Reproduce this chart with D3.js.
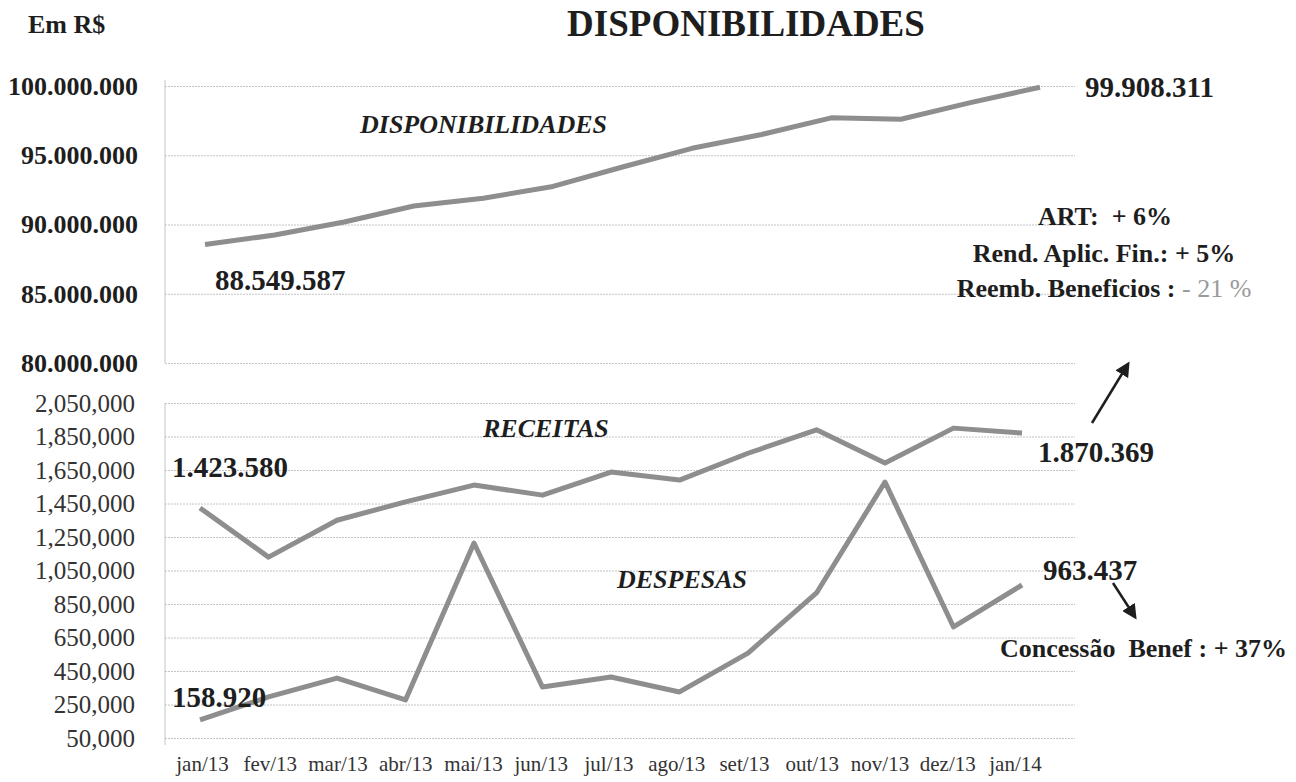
<!DOCTYPE html>
<html>
<head>
<meta charset="utf-8">
<script src="https://cdn.jsdelivr.net/npm/d3@7"></script>
<style>
  body { margin: 0; background: #fff; }
  svg { font-family: "Liberation Serif", "Times New Roman", serif; }
  text { white-space: pre; }
</style>
</head>
<body>
<svg id="chart" width="1296" height="782"></svg>
<script>
// data
var months = ["jan/13","fev/13","mar/13","abr/13","mai/13","jun/13","jul/13","ago/13","set/13","out/13","nov/13","dez/13","jan/14"];
var disponibilidades = [88549587, 89240000, 90180000, 91340000, 91900000, 92750000, 94150000, 95500000, 96500000, 97700000, 97600000, 98800000, 99908311];
var receitas = [1423580, 1130000, 1350000, 1460000, 1560000, 1500000, 1638000, 1590000, 1750000, 1890000, 1692000, 1900000, 1870369];
var despesas = [158920, 295000, 408000, 277000, 1214000, 354000, 414000, 325000, 557000, 916000, 1578000, 713000, 963437];
var topTicks = [80000000, 85000000, 90000000, 95000000, 100000000];
var bottomTicks = [50000, 250000, 450000, 650000, 850000, 1050000, 1250000, 1450000, 1650000, 1850000, 2050000];
var notes = ["ART:  + 6%", "Rend. Aplic. Fin.: + 5%", "Reemb. Beneficios : "];

const svg = d3.select("#chart");
var ptBR = d3.formatLocale({decimal: ",", thousands: ".", grouping: [3], currency: ["R$", ""]});
var fmtDot = ptBR.format(",");
var fmtComma = d3.format(",");

var lineColor = "#8e8e8e";
var gridColor = "#c4c4c4";
var textColor = "#1e1e1e";

// scales
var xTop = d3.scalePoint().domain(months).range([205, 1040]);
var xBot = d3.scalePoint().domain(months).range([200, 1022]);
var xLab = d3.scalePoint().domain(months).range([202, 1015]);
var yTop = d3.scaleLinear().domain([80000000, 100000000]).range([363, 86]);
var yBot = d3.scaleLinear().domain([50000, 2050000]).range([738, 403]);

// title
svg.append("text")
  .attr("x", 28).attr("y", 33)
  .attr("font-size", 26).attr("font-weight", "bold")
  .attr("fill", textColor)
  .text("Em R$");

svg.append("text")
  .attr("x", 746).attr("y", 36)
  .attr("text-anchor", "middle")
  .attr("font-size", 37).attr("font-weight", "bold")
  .attr("fill", textColor)
  .text("DISPONIBILIDADES");

// top panel axis
var topAxis = d3.axisLeft(yTop)
  .tickValues(topTicks)
  .tickSize(-910)
  .tickPadding(27)
  .tickFormat(fmtDot);

svg.append("g")
  .attr("class","axis top")
  .attr("transform","translate(165,0)")
  .call(topAxis)
  .call(function(g){
    g.select(".domain").attr("stroke", gridColor).attr("d", "M0,80V363");
    g.selectAll(".tick line").attr("stroke", gridColor).attr("stroke-dasharray", "2,1");
    g.selectAll(".tick text").attr("fill", textColor)
      .attr("font-size", 26).attr("font-weight", "bold")
      .attr("font-family", "Liberation Serif, serif");
  });

// bottom panel axis
var botAxis = d3.axisLeft(yBot)
  .tickValues(bottomTicks)
  .tickSize(-910)
  .tickPadding(30)
  .tickFormat(fmtComma);

svg.append("g")
  .attr("class","axis bottom")
  .attr("transform","translate(165,0)")
  .call(botAxis)
  .call(function(g){
    g.select(".domain").attr("stroke", gridColor).attr("d", "M0,403V745");
    g.selectAll(".tick line").attr("stroke", gridColor).attr("stroke-dasharray", "2,1");
    g.selectAll(".tick text").attr("fill", "#333")
      .attr("font-size", 25)
      .attr("font-family", "Liberation Serif, serif");
  });

// month labels
var xAxis = d3.axisBottom(xLab).tickSize(0).tickPadding(18);
svg.append("g")
  .attr("transform","translate(0,738)")
  .call(xAxis)
  .call(function(g){
    g.select(".domain").remove();
    g.selectAll(".tick text").attr("fill", "#333")
      .attr("font-size", 21)
      .attr("font-family", "Liberation Serif, serif");
  });

// lines
function drawLine(values, xs, ys){
  var line = d3.line()
    .x(function(d,i){ return xs(months[i]); })
    .y(function(d){ return ys(d); });
  svg.append("path")
    .datum(values)
    .attr("d", line)
    .attr("fill", "none")
    .attr("stroke", lineColor)
    .attr("stroke-width", 5)
    .attr("stroke-linejoin", "round");
}
drawLine(disponibilidades, xTop, yTop);
drawLine(receitas, xBot, yBot);
drawLine(despesas, xBot, yBot);

// series names
function seriesName(txt, x, y){
  svg.append("text")
    .attr("x", x).attr("y", y)
    .attr("font-size", 26).attr("font-weight", "bold").attr("font-style", "italic")
    .attr("fill", textColor)
    .text(txt);
}
seriesName("DISPONIBILIDADES", 360, 133);
seriesName("RECEITAS", 483, 437);
seriesName("DESPESAS", 617, 588);

// value labels, placed from the first / last points
var last = months.length - 1;
function valueLabel(txt, x, y){
  svg.append("text")
    .attr("x", x).attr("y", y)
    .attr("font-size", 29).attr("font-weight", "bold")
    .attr("fill", textColor)
    .text(txt);
}
valueLabel(fmtDot(disponibilidades[0]), xTop(months[0]) + 10, yTop(disponibilidades[0]) + 45);
valueLabel(fmtDot(disponibilidades[last]), xTop(months[last]) + 45, yTop(disponibilidades[last]) + 10);
valueLabel(fmtDot(receitas[0]), xBot(months[0]) - 28, yBot(receitas[0]) - 31);
valueLabel(fmtDot(despesas[0]), xBot(months[0]) - 28, yBot(despesas[0]) - 13);
valueLabel(fmtDot(receitas[last]), xBot(months[last]) + 16, yBot(receitas[last]) + 29);
valueLabel(fmtDot(despesas[last]), xBot(months[last]) + 21, yBot(despesas[last]) - 5);

// notes on the right
var noteG = svg.append("g").attr("font-size", 26).attr("font-weight", "bold").attr("fill", textColor);
noteG.append("text").attr("x", 1105).attr("y", 225).attr("text-anchor", "middle").text(notes[0]);
noteG.append("text").attr("x", 1104).attr("y", 262).attr("text-anchor", "middle").text(notes[1]);
var reemb = noteG.append("text").attr("x", 1104).attr("y", 297).attr("text-anchor", "middle");
reemb.append("tspan").text(notes[2]);
reemb.append("tspan").attr("fill", "#9a9a9a").attr("font-weight", "normal").text("- 21 %");

noteG.append("text").attr("x", 1287).attr("y", 657).attr("text-anchor", "end")
  .attr("font-size", 26)
  .text("Concessão  Benef : + 37%");

// arrows
svg.append("defs").append("marker")
  .attr("id","head")
  .attr("viewBox","0 0 10 10")
  .attr("refX", 8).attr("refY", 5)
  .attr("markerWidth", 6).attr("markerHeight", 6)
  .attr("orient","auto")
  .append("path")
  .attr("d","M0,0L10,5L0,10z")
  .attr("fill", textColor);

svg.append("line")
  .attr("x1", 1092).attr("y1", 423).attr("x2", 1128).attr("y2", 364)
  .attr("stroke", textColor).attr("stroke-width", 2.5)
  .attr("marker-end","url(#head)");

svg.append("line")
  .attr("x1", 1113).attr("y1", 583).attr("x2", 1135).attr("y2", 617)
  .attr("stroke", textColor).attr("stroke-width", 2.5)
  .attr("marker-end","url(#head)");
</script>
</body>
</html>
